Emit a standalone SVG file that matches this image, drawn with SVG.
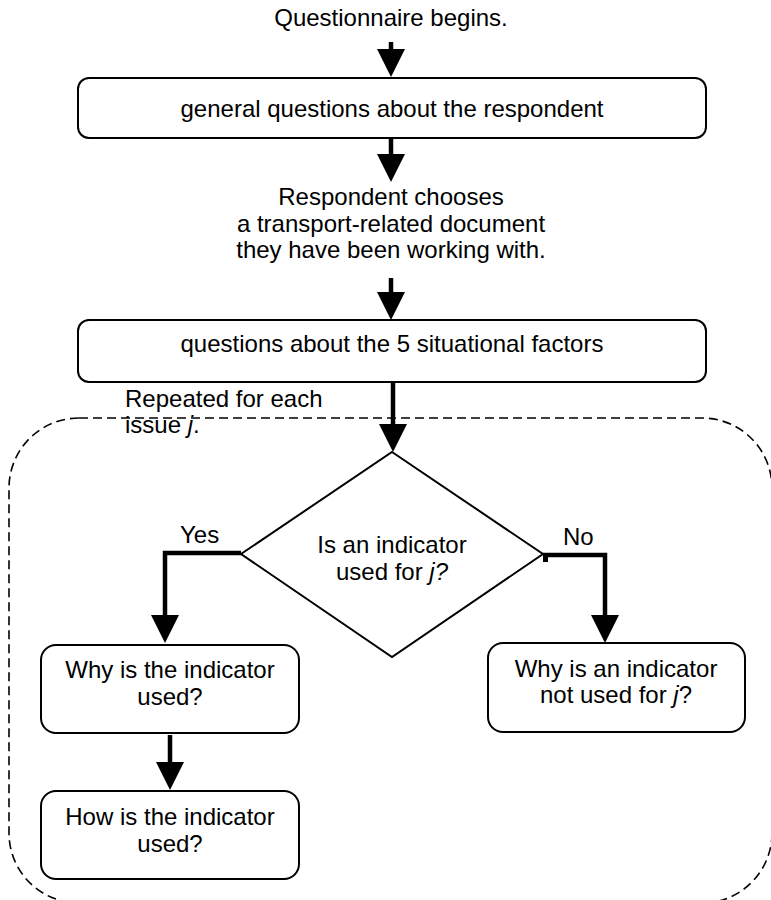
<svg xmlns="http://www.w3.org/2000/svg" width="771" height="900" viewBox="0 0 771 900">
<style>
text{font-family:"Liberation Sans",Arial,sans-serif;font-size:24px;fill:#000}
.c{text-anchor:middle}
.box{fill:#fff;stroke:#000;stroke-width:2}
.conn{fill:none;stroke:#000;stroke-width:4.5;stroke-linejoin:miter}
.dash{fill:none;stroke:#000;stroke-width:1.6;stroke-dasharray:9 5}
</style>
<defs>
<marker id="ah" markerUnits="userSpaceOnUse" viewBox="0 -14 28 28" markerWidth="28" markerHeight="28" refX="1" refY="0" orient="auto">
<path d="M0,-14 L28,0 L0,14 z" fill="#000"/>
</marker>
</defs>
<g id="loop">
<rect class="dash" x="9" y="418" width="763" height="485" rx="70" ry="70"/>
<text x="125" y="407">Repeated for each</text>
<text x="125" y="433">issue <tspan font-style="italic">j</tspan>.</text>
</g>
<g id="start">
<text class="c" x="391" y="26">Questionnaire begins.</text>
</g>
<g id="general">
<rect class="box" x="78" y="78" width="628" height="60" rx="11"/>
<text class="c" x="392" y="117">general questions about the respondent</text>
</g>
<g id="choose">
<text class="c" x="391" y="205">Respondent chooses</text>
<text class="c" x="391" y="232">a transport-related document</text>
<text class="c" x="391" y="258">they have been working with.</text>
</g>
<g id="situational">
<rect class="box" x="78" y="320" width="628" height="62" rx="11"/>
<text class="c" x="392" y="352">questions about the 5 situational factors</text>
</g>
<g id="decision">
<polygon points="392,452 543,554 392,657 241,554" fill="#fff" stroke="#000" stroke-width="2"/>
<text class="c" x="392" y="553">Is an indicator</text>
<text class="c" x="392" y="580">used for <tspan font-style="italic">j?</tspan></text>
</g>
<g id="why-used">
<rect class="box" x="41" y="645" width="258" height="88" rx="15"/>
<text class="c" x="170" y="678">Why is the indicator</text>
<text class="c" x="170" y="705">used?</text>
</g>
<g id="how-used">
<rect class="box" x="41" y="791" width="258" height="88" rx="15"/>
<text class="c" x="170" y="825">How is the indicator</text>
<text class="c" x="170" y="852">used?</text>
</g>
<g id="why-not">
<rect class="box" x="488" y="643" width="257" height="89" rx="15"/>
<text class="c" x="616" y="677">Why is an indicator</text>
<text class="c" x="616" y="703">not used for <tspan font-style="italic">j</tspan>?</text>
</g>
<g id="connectors">
<line class="conn" x1="391" y1="42" x2="391" y2="50" marker-end="url(#ah)"/>
<line class="conn" x1="391" y1="138" x2="391" y2="155" marker-end="url(#ah)"/>
<line class="conn" x1="391" y1="278" x2="391" y2="293" marker-end="url(#ah)"/>
<line class="conn" x1="393" y1="382" x2="393" y2="425" marker-end="url(#ah)"/>
<path class="conn" d="M241,553 H165 V616" marker-end="url(#ah)"/>
<path class="conn" d="M543,555 H605 V616" marker-end="url(#ah)"/>
<rect x="543" y="555" width="5" height="7" fill="#000"/>
<line class="conn" x1="170" y1="735" x2="170" y2="763" marker-end="url(#ah)"/>
<text x="180" y="543">Yes</text>
<text x="563" y="545">No</text>
</g>
</svg>
